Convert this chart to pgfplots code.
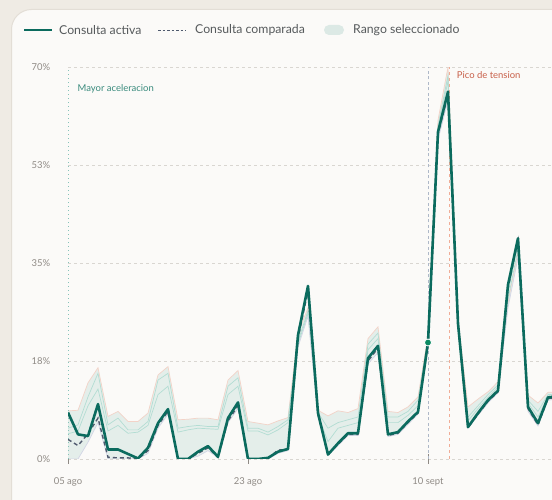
\documentclass[border=0pt]{standalone}
\usepackage{fontspec}
\setmainfont{Lato}
\usepackage{pgfplots}
\pgfplotsset{compat=1.18}
\usepackage{pgfplotstable}

\definecolor{bgout}{HTML}{EFEBE4}
\definecolor{card}{HTML}{FBFAF8}
\definecolor{cardedge}{HTML}{E3DED6}
\definecolor{active}{HTML}{0B6B5E}
\definecolor{compared}{HTML}{4F5A6E}
\definecolor{band}{HTML}{E4EEEA}
\definecolor{bandup}{HTML}{F3D3C8}
\definecolor{bandteal}{HTML}{B3DDD3}
\definecolor{bandlow}{HTML}{D3D6E6}
\definecolor{tickc}{HTML}{8F8A85}
\definecolor{gridc}{HTML}{D9D6D1}
\definecolor{legtext}{HTML}{565A5C}
\definecolor{accel}{HTML}{3A8B7D}
\definecolor{accelline}{HTML}{86C3B9}
\definecolor{pico}{HTML}{C8604A}
\definecolor{picoline}{HTML}{F0AC96}
\definecolor{selline}{HTML}{AEB8C8}
\definecolor{dotc}{HTML}{0B8A62}
\definecolor{swatch}{HTML}{DCE9E5}

\pgfplotstableread{
i act cmp up low rng t1 t2
0 8.3 3.5 8.6 0 8.6 5.5 4.5
1 4.4 2.4 8.7 0 8.7 6.1 5.0
2 4.1 4.5 13.6 3.0 10.6 11.1 9.5
3 9.8 7.3 16.3 6.5 9.8 15.3 12.5
4 1.7 0.3 7.6 0 7.6 6.1 5.0
5 1.7 0.2 8.5 0 8.5 7.3 6.0
6 0.9 0.2 6.7 0 6.7 5.2 4.6
7 0.1 0.0 6.7 0 6.7 5.2 4.8
8 2.0 1.5 8.2 1.0 7.2 6.7 6.0
9 6.4 6.0 15.0 5.5 9.5 14.1 11.5
10 8.9 8.5 16.5 8.0 8.5 15.3 13.0
11 0 0 7.0 0 7.0 5.5 4.8
12 0 0 7.1 0 7.1 5.8 5.2
13 1.3 1.0 7.3 0.5 6.8 6.0 5.5
14 2.3 2.0 7.3 1.5 5.8 5.8 5.4
15 0.4 0.3 7.0 0.2 6.8 5.8 5.3
16 7.3 6.8 14.1 6.5 7.6 13.0 11.5
17 10.1 9.5 15.8 9.0 6.8 14.5 13.0
18 0 0 6.7 0 6.7 5.5 5.0
19 0 0 6.4 0 6.4 5.5 5.0
20 0.2 0.1 6.1 0 6.1 4.8 4.3
21 1.3 1.6 6.8 1.0 5.8 5.8 5.2
22 1.8 1.7 7.4 1.5 5.9 7.0 6.5
23 22.1 21.5 22.5 20.0 2.5 21.0 20.5
24 30.9 30.0 27.0 25.5 1.5 26.5 26.0
25 8.2 8.0 8.7 7.5 1.2 8.3 7.8
26 0.8 0.8 7.7 0.6 7.1 5.5 3.1
27 2.8 2.6 8.6 2.4 6.2 6.5 5.5
28 4.6 4.4 8.3 4.2 4.1 7.0 6.0
29 4.6 4.4 9.0 4.2 4.8 7.5 6.5
30 18.0 17.5 21.5 17.0 4.5 20.5 19.5
31 20.2 19.8 23.6 19.0 4.6 22.5 21.5
32 4.4 4.2 8.5 4.0 4.5 7.5 6.5
33 4.8 4.6 8.3 4.4 3.9 7.5 6.5
34 6.7 6.5 9.3 6.2 3.1 8.5 7.8
35 8.4 8.2 11.1 8.0 3.1 10.5 9.5
36 20.8 20.5 22.0 20.0 2.0 21.5 21.0
37 58.4 58.0 60.5 57.0 3.5 59.5 59.0
38 65.6 65.0 70.0 64.0 6.0 68.5 67.5
39 24.2 24.0 25.0 23.5 1.5 24.8 24.5
40 5.7 5.6 9.3 5.5 3.8 7.5 6.8
41 8.2 8.0 10.7 7.8 2.9 9.5 9.0
42 10.5 10.3 12.0 10.0 2.0 11.5 11.0
43 12.2 12.0 13.8 11.8 2.0 13.2 12.8
44 31.1 30.5 28.0 27.0 1.0 29.5 28.5
45 39.4 39.0 37.0 36.0 1.0 38.5 37.5
46 9.3 9.0 11.4 8.5 2.9 10.5 10.0
47 6.4 6.1 10.0 5.9 4.1 8.5 7.5
48 11.0 10.8 11.9 10.5 1.4 11.5 11.2
49 11.2 11.0 12.0 10.7 1.3 11.6 11.3
}\data

\begin{document}
\begin{tikzpicture}
\fill[bgout] (0,0) rectangle (552bp,500bp);
\fill[card, draw=cardedge, line width=1bp] (11.5bp,-20bp) -- (11.5bp,470.5bp) arc[start angle=180,end angle=90,radius=20bp] -- (600bp,490.5bp) -- (600bp,-20bp) -- cycle;
% legend
\draw[active, line width=2.2bp] (24bp,470bp) -- (52bp,470bp);
\node[anchor=west, inner sep=0, text=legtext, font=\fontsize{12.3}{14}\selectfont] at (59bp,470bp) {Consulta activa};
\draw[compared, line width=0.8bp, dash pattern=on 2.5bp off 2bp] (158bp,470bp) -- (186bp,470bp);
\node[anchor=west, inner sep=0, text=legtext, font=\fontsize{12.3}{14}\selectfont] at (195bp,470bp) {Consulta comparada};
\fill[swatch, rounded corners=5bp] (324bp,465bp) rectangle (344bp,475bp);
\node[anchor=west, inner sep=0, text=legtext, font=\fontsize{12.3}{14}\selectfont] at (353bp,470bp) {Rango seleccionado};

\begin{axis}[
  at={(68bp,41bp)}, anchor=south west,
  scale only axis, width=490bp, height=392bp,
  xmin=0, xmax=49, ymin=0, ymax=70,
  axis line style={draw=none},
  no markers,
  ytick={0,17.5,35,52.5,70},
  yticklabels={0\%,18\%,35\%,53\%,70\%},
  xtick={0,18,36},
  xticklabels={05 ago,23 ago,10 sept},
  xtick pos=bottom,
  ymajorgrids,
  grid style={gridc, dash pattern=on 3bp off 3bp, line width=0.7bp},
  ytick style={draw=none},
  xtick style={tickc, line width=0.8bp},
  major tick length=9bp,
  tick align=center,
  tick label style={font=\fontsize{9.5}{11}\selectfont, text=tickc},
  yticklabel style={anchor=east, inner sep=0pt, xshift=-13bp},
  xticklabel style={anchor=center, inner sep=0pt, yshift=-18bp},
]
\addplot[draw=none, stack plots=y, forget plot] table[x=i,y=low]{\data};
\addplot[fill=band, draw=none, stack plots=y] table[x=i,y=rng]{\data} \closedcycle;
\addplot[bandup, line width=0.7bp] table[x=i,y=up]{\data};
\addplot[bandteal, line width=0.7bp] table[x=i,y=t1]{\data};
\addplot[bandteal, line width=0.7bp] table[x=i,y=t2]{\data};
\addplot[bandlow, line width=0.7bp] table[x=i,y=low]{\data};
\draw[accelline, line width=0.8bp, dash pattern=on 1bp off 3bp] (axis cs:0,0) -- (axis cs:0,70);
\draw[selline, line width=1bp, dash pattern=on 3bp off 2.5bp] (axis cs:36,0) -- (axis cs:36,70);
\draw[picoline, line width=0.8bp, dash pattern=on 3bp off 3bp] (axis cs:38.1,0) -- (axis cs:38.1,70);
\node[anchor=west, inner sep=0, text=accel, font=\fontsize{9.5}{11}\selectfont] at (axis cs:0.95,66.1) {Mayor aceleracion};
\node[anchor=west, inner sep=0, text=pico, font=\fontsize{9.5}{11}\selectfont] at (axis cs:38.87,68.6) {Pico de tension};
\addplot[compared, line width=1.4bp, dash pattern=on 4bp off 3bp] table[x=i,y=cmp]{\data};
\addplot[active, line width=2.6bp, line join=round] table[x=i,y=act]{\data};
\addplot[only marks, mark=*, mark size=3.5bp, color=dotc, mark options={draw=white, line width=0.8bp}] coordinates {(36,20.8)};
\end{axis}
\pgfresetboundingbox
\path[use as bounding box] (0,0) rectangle (552bp,500bp);
\end{tikzpicture}
\end{document}
